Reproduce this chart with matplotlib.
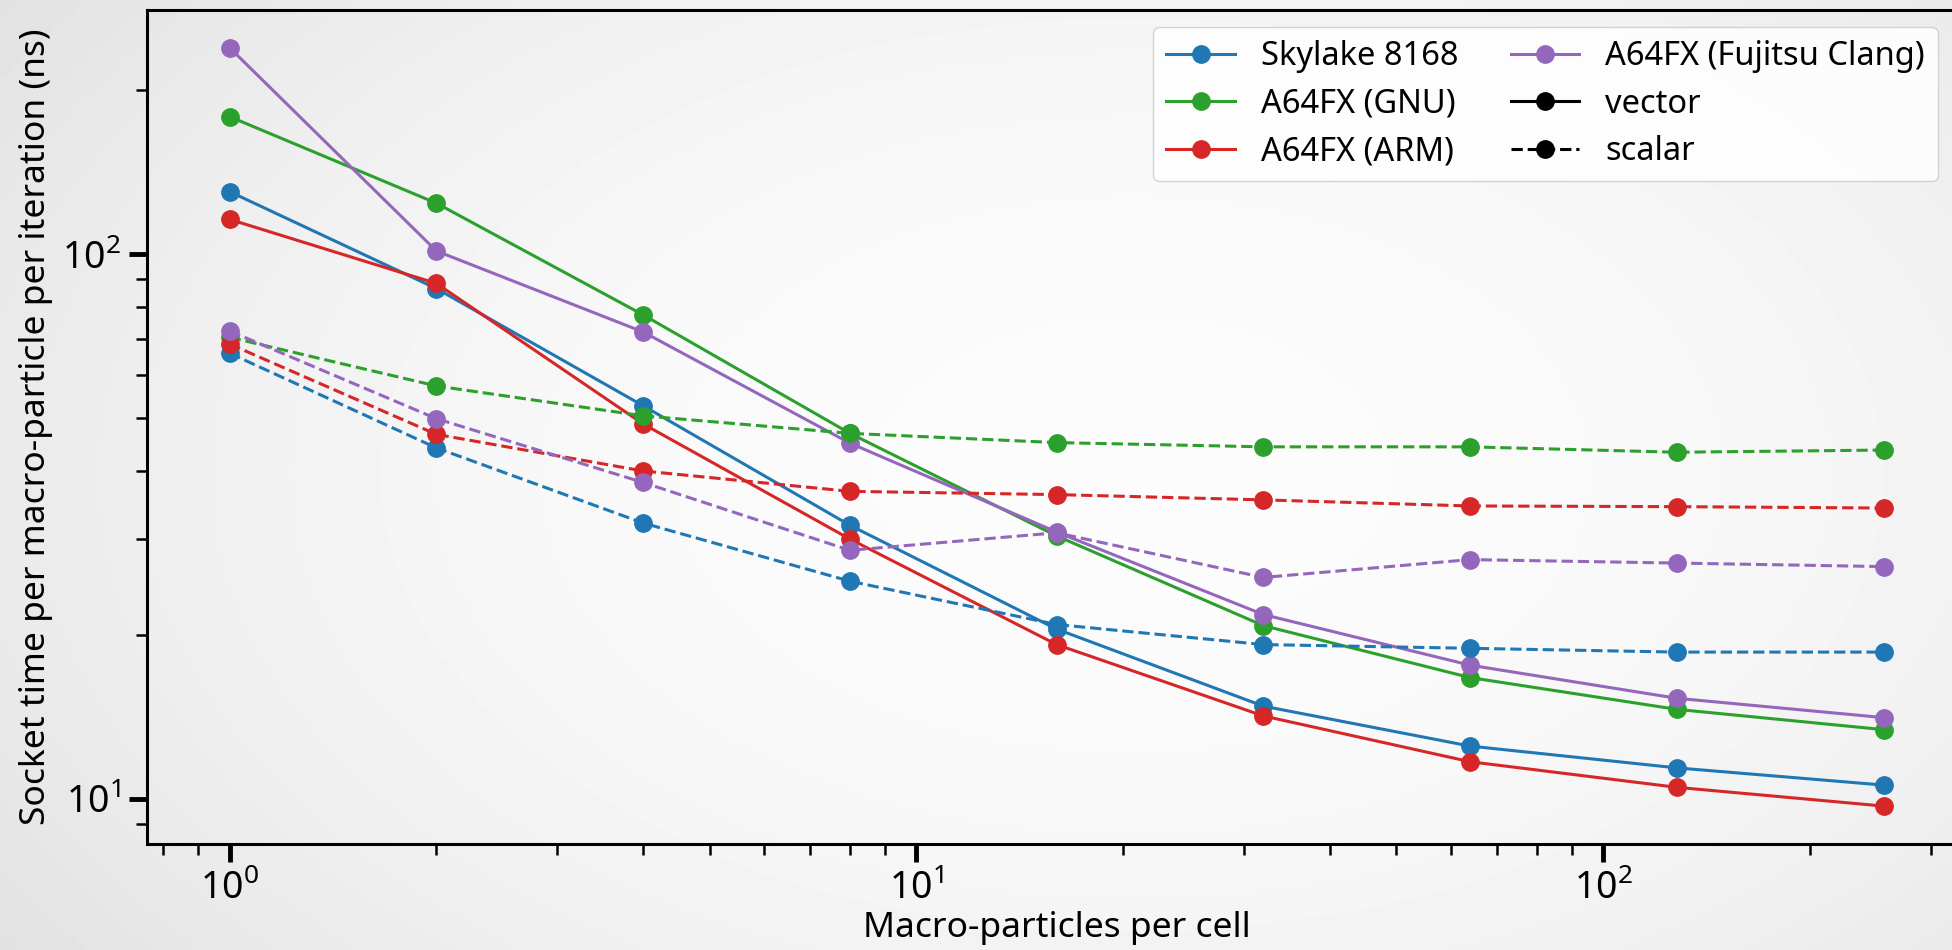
import matplotlib
matplotlib.use('Agg')
import matplotlib.pyplot as plt
from matplotlib.lines import Line2D
import numpy as np

plt.rcParams['font.family'] = ['Noto Sans', 'DejaVu Sans']

# macro-particles per cell
ppc = [1, 2, 4, 8, 16, 32, 64, 128, 256]

# socket time per macro-particle per iteration (ns), vector builds
skylake_vec = [130.3, 86.5, 52.7, 31.8, 20.5, 14.8, 12.5, 11.4, 10.6]
gnu_vec = [178.9, 124.1, 77.4, 46.9, 30.4, 20.8, 16.7, 14.6, 13.4]
arm_vec = [115.9, 88.4, 48.8, 30.0, 19.2, 14.2, 11.7, 10.5, 9.7]
fujitsu_vec = [239.4, 101.4, 72.0, 45.0, 30.9, 21.8, 17.6, 15.3, 14.1]

# scalar builds
skylake_sca = [65.8, 44.1, 32.1, 25.1, 20.9, 19.2, 18.9, 18.6, 18.6]
gnu_sca = [70.4, 57.3, 50.5, 46.9, 45.1, 44.3, 44.3, 43.3, 43.7]
arm_sca = [68.4, 46.7, 40.0, 36.7, 36.2, 35.4, 34.5, 34.4, 34.2]
fujitsu_sca = [72.3, 49.9, 38.1, 28.6, 30.8, 25.5, 27.5, 27.1, 26.7]

labels = ['Skylake 8168', 'A64FX (GNU)', 'A64FX (ARM)', 'A64FX (Fujitsu Clang)']
colors = ['#1f77b4', '#2ca02c', '#d62728', '#9467bd']
vec_data = [skylake_vec, gnu_vec, arm_vec, fujitsu_vec]
sca_data = [skylake_sca, gnu_sca, arm_sca, fujitsu_sca]

fig = plt.figure(figsize=(19.52, 9.5), dpi=100)

# soft vignette background behind everything
bg = fig.add_axes([0, 0, 1, 1], zorder=-10)
yy, xx = np.mgrid[0:1:300j, 0:1:600j]
r = np.sqrt(((xx - 0.58) / 0.6) ** 2 + ((yy - 0.5) / 0.75) ** 2)
shade = 0.988 - 0.075 * np.clip(r, 0, 1.3) ** 2
bg.imshow(shade, cmap='gray', vmin=0, vmax=1, aspect='auto', extent=[0, 1, 0, 1])
bg.axis('off')

ax = fig.add_axes([0.0753, 0.1116, 0.932, 0.878])
ax.patch.set_alpha(0)

for vals, c in zip(vec_data, colors):
    ax.plot(ppc, vals, '-o', color=c, lw=2.2, ms=12.5)
for vals, c in zip(sca_data, colors):
    ax.plot(ppc, vals, '--o', color=c, lw=2.2, ms=12.5)

ax.set_xscale('log')
ax.set_yscale('log')

for side in ['left', 'bottom', 'top']:
    ax.spines[side].set_linewidth(2.2)
    ax.spines[side].set_color('black')
ax.spines['right'].set_visible(False)

ax.tick_params(which='major', length=13, width=3.5, labelsize=27, pad=6)
ax.tick_params(which='minor', length=8, width=1.8)

ax.set_xlabel('Macro-particles per cell', fontsize=25.5, labelpad=2)
ax.set_ylabel('Socket time per macro-particle per iteration (ns)', fontsize=25.5, labelpad=6)

handles = [Line2D([], [], color=c, marker='o', lw=2.2, ms=12.5) for c in colors]
handles += [Line2D([], [], color='black', marker='o', lw=2.2, ms=12.5),
            Line2D([], [], color='black', marker='o', lw=2.2, ms=12.5, ls='--')]
names = labels + ['vector', 'scalar']
leg = ax.legend(handles, names, ncol=2, fontsize=23.5, loc='upper right',
                bbox_to_anchor=(1938 / 1952, 923 / 950), bbox_transform=fig.transFigure,
                borderaxespad=0.0, handlelength=2.1, handletextpad=0.8, columnspacing=1.6,
                borderpad=0.4, labelspacing=0.45)
leg.get_frame().set_facecolor('white')
leg.get_frame().set_alpha(0.85)

fig.savefig('out.png', dpi=100, facecolor=fig.get_facecolor())
